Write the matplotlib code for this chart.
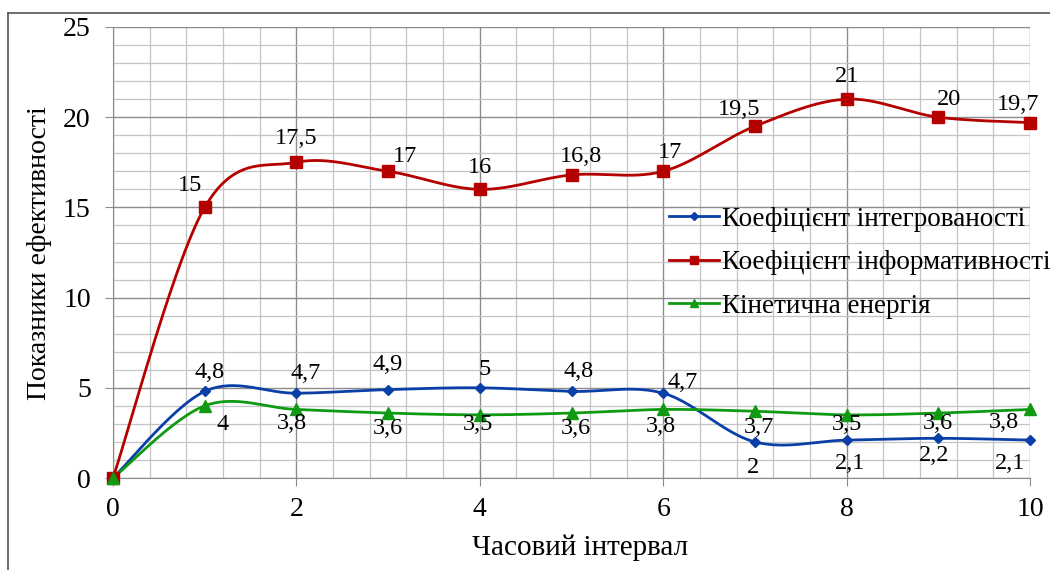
import numpy as np
import matplotlib
matplotlib.use('Agg')
import matplotlib.pyplot as plt
from matplotlib.ticker import MultipleLocator
from matplotlib.lines import Line2D

# data
x_vals = [0, 1, 2, 3, 4, 5, 6, 7, 8, 9, 10]
integr = [0, 4.8, 4.7, 4.9, 5, 4.8, 4.7, 2, 2.1, 2.2, 2.1]
inform = [0, 15, 17.5, 17, 16, 16.8, 17, 19.5, 21, 20, 19.7]
kinet = [0, 4, 3.8, 3.6, 3.5, 3.6, 3.8, 3.7, 3.5, 3.6, 3.8]
series_names = ['Коефіцієнт інтегрованості', 'Коефіцієнт інформативності', 'Кінетична енергія']
x_title = 'Часовий інтервал'
y_title = 'Показники ефективності'

# label offsets in pixels (dx, dy), one per point from x=1
off_integr = [(5, 19), (9, 20), (0, 25), (5, 18), (7, 20), (19, 11), (-2, -26), (3, -23), (-4, -17), (-20, -23)]
off_inform = [(-15, 22), (0, 24), (17, 15), (0, 22), (9, 18), (7, 19), (-16, 17), (0, 23), (11, 18), (-12, 18)]
off_kinet = [(18, -19), (-5, -14), (0, -15), (-2, -10), (4, -15), (-2, -17), (4, -16), (0, -10), (0, -10), (-26, -13)]


def smooth(xs, ys, n=30):
    # Catmull-Rom style smoothing like the Excel "smoothed line" option
    p = np.column_stack([xs, ys]).astype(float)
    p = np.vstack([p[0], p, p[-1]])
    out = []
    t = np.linspace(0, 1, n)[:, None]
    for i in range(1, len(p) - 2):
        p0, p1, p2, p3 = p[i - 1], p[i], p[i + 1], p[i + 2]
        c1 = p1 + (p2 - p0) / 6.0
        c2 = p2 - (p3 - p1) / 6.0
        seg = (1 - t)**3 * p1 + 3 * (1 - t)**2 * t * c1 + 3 * (1 - t) * t**2 * c2 + t**3 * p2
        out.append(seg if i == 1 else seg[1:])
    out = np.vstack(out)
    return out[:, 0], out[:, 1]


def fmt(v):
    s = ('%g' % v).replace('.', ',')
    return s


plt.rcParams['font.family'] = ['Liberation Serif', 'DejaVu Serif']

fig = plt.figure(figsize=(10.5, 5.7), dpi=100)
ax = fig.add_axes([113 / 1050, 1 - 478 / 570, (1030 - 113) / 1050, (478 - 27) / 570])

ax.set_xlim(0, 10)
ax.set_ylim(0, 25)
ax.xaxis.set_major_locator(MultipleLocator(2))
ax.xaxis.set_minor_locator(MultipleLocator(0.4))
ax.yaxis.set_major_locator(MultipleLocator(5))
ax.yaxis.set_minor_locator(MultipleLocator(1))
ax.grid(which='major', color='#8c8c8c', linewidth=1.0)
ax.grid(which='minor', color='#c4c4c4', linewidth=0.9)
ax.set_axisbelow(True)
for s in ['top', 'right']:
    ax.spines[s].set_visible(False)
ax.spines['left'].set_color('#8c8c8c')
ax.spines['bottom'].set_color('#8c8c8c')
ax.tick_params(which='major', length=6, color='#8c8c8c', labelsize=20, pad=8)
ax.tick_params(which='minor', length=0)
ax.tick_params(axis='y', pad=10)

colors = ['#0b3fa8', '#b50000', '#0f9a12']
markers = ['D', 's', '^']
msizes = [5.5, 8, 8]
data = [integr, inform, kinet]
offsets = [off_integr, off_inform, off_kinet]

handles = []
for ys, c, m, ms, name in zip(data, colors, markers, msizes, series_names):
    sx, sy = smooth(x_vals, ys)
    ax.plot(sx, sy, color=c, linewidth=2.0, zorder=3)
    ax.plot(x_vals, ys, linestyle='none', marker=m, markersize=ms, color=c, zorder=4, clip_on=False)
    handles.append(Line2D([0], [0], color=c, linewidth=2.0, marker=m, markersize=ms * 0.8, label=name))

for ys, offs in zip(data, offsets):
    for xv, yv, (dx, dy) in zip(x_vals[1:], ys[1:], offs):
        ax.annotate(fmt(yv), (xv, yv), xytext=(dx, dy), textcoords='offset pixels',
                    ha='center', va='center', fontsize=17.5, zorder=5)

leg = fig.legend(handles=handles, loc='upper left', bbox_to_anchor=(658 / 1050, 1 - 196 / 570),
                 frameon=False, fontsize=19.5, handlelength=1.85, handletextpad=0.1,
                 labelspacing=0.68, borderaxespad=0)

fig.text(580 / 1050, 1 - 548 / 570, x_title, ha='center', va='center', fontsize=21)
fig.text(40 / 1050, 1 - 253 / 570, y_title, ha='center', va='center', rotation=90, fontsize=20)

# outer chart border (top and left visible)
fig.add_artist(Line2D([8 / 1050, 8 / 1050], [0, 1 - 13 / 570], color='#555555', linewidth=1.2))
fig.add_artist(Line2D([8 / 1050, 1], [1 - 13 / 570, 1 - 13 / 570], color='#555555', linewidth=1.2))

fig.savefig('out.png', dpi=100)
